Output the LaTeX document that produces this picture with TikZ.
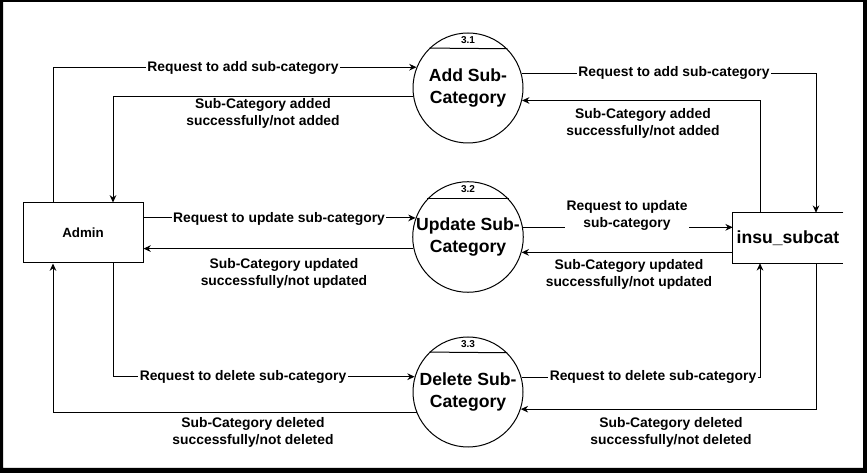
\documentclass[tikz,border=0pt]{standalone}
\usepackage{fontspec}
\setmainfont{Liberation Sans}
\usetikzlibrary{arrows.meta,calc}

\begin{document}
\begin{tikzpicture}[x=0.75pt,y=0.75pt,yscale=-1,
    flow/.style={line width=0.75pt,-{Stealth[length=5.5pt,width=5pt]}},
    proc/.style={draw,circle,line width=0.75pt,minimum size=82.5pt,inner sep=0pt,align=center,font=\fontsize{13.2}{16.5}\selectfont\bfseries},
    ext/.style={draw,line width=0.75pt,minimum width=90pt,minimum height=45pt,font=\fontsize{10}{12}\selectfont\bfseries},
    datastore/.style={minimum width=82.5pt,minimum height=37.5pt,inner sep=0pt,font=\fontsize{13.2}{16}\selectfont\bfseries},
    lbl/.style={fill=white,inner sep=1pt,align=center,font=\fontsize{10.4}{12.75}\selectfont\bfseries},
    num/.style={inner sep=0pt,font=\fontsize{7.5}{9}\selectfont\bfseries}
]
\useasboundingbox (0,0) rectangle (867,473);

%Shape: Frame
\fill[even odd rule] (0,0) rectangle (867,473) (3,2) rectangle (863,468);

%Shape: Rectangle
\node[ext] (admin) at (83,233) {Admin};
%Shape: Data store
\node[datastore] (subcat) at (788,238) {insu\_subcat};
\draw[line width=0.75pt] (subcat.north east) -- (subcat.north west) -- (subcat.south west) -- (subcat.south east);

%Shape: Circles
\node[proc] (add) at (468,88) {Add Sub-\\Category};
\node[proc] (upd) at (468,237) {Update Sub-\\Category};
\node[proc] (del) at (468,392) {Delete Sub-\\Category};
\draw[line width=0.75pt] (add.45.2) -- (add.134.8);
\draw[line width=0.75pt] (upd.43) -- (upd.137);
\draw[line width=0.75pt] (del.45.2) -- (del.134.8);
\node[num] (addnum) at ($(add.north)+(0,8)$) {3.1};
\node[num] (updnum) at ($(upd.north)+(0,8)$) {3.2};
\node[num] (delnum) at ($(del.north)+(0,8)$) {3.3};

%Straight Lines: add
\draw[flow] ($(admin.north)+(-30,0)$) |- (add.158.7);
\draw[flow] (add.189.4) -| ($(admin.north)+(30,0)$);
\draw[flow] (add.15.8) -| ($(subcat.north)+(28,0)$);
\draw[flow] ($(subcat.north)+(-28,0)$) |- (add.347.4);

%Straight Lines: update
\draw[flow] (admin.east |- upd.160.9) -- (upd.160.9);
\draw[flow] (upd.192.6) -- (admin.east |- upd.192.6);
\draw[flow] (upd.10.5) -- (subcat.west |- upd.10.5);
\draw[flow] (subcat.west |- upd.344.2) -- (upd.344.2);

%Straight Lines: delete
\draw[flow] ($(admin.south)+(30,0)$) |- (del.164.2);
\draw[flow] (del.202.4) -| ($(admin.south)+(-30,0)$);
\draw[flow] (del.15.8) -| ($(subcat.south)+(-28,0)$);
\draw[flow] ($(subcat.south)+(28,0)$) |- (del.342);

% Text Node
\node[lbl] (addreq) at (243,68) {Request to add sub-category};
% Text Node
\node[lbl] (addres) at (263,113) {Sub-Category added\\successfully/not added};
% Text Node
\node[lbl] (addreqr) at (674,73) {Request to add sub-category};
% Text Node
\node[lbl] (addresr) at (643,123) {Sub-Category added\\successfully/not added};
% Text Node
\node[lbl] (updreq) at (279,219) {Request to update sub-category};
% Text Node
\node[lbl] (updres) at (284,273) {Sub-Category updated\\successfully/not updated};
% Text Node
\node[lbl] (updreqr) at (627,215) {Request to update\\sub-category};
% Text Node
\node[lbl] (updresr) at (629,274) {Sub-Category updated\\successfully/not updated};
% Text Node
\node[lbl] (delreq) at (243,377) {Request to delete sub-category};
% Text Node
\node[lbl] (delres) at (253,432) {Sub-Category deleted\\successfully/not deleted};
% Text Node
\node[lbl] (delreqr) at (653,377) {Request to delete sub-category};
% Text Node
\node[lbl] (delresr) at (671,432) {Sub-Category deleted\\successfully/not deleted};

\end{tikzpicture}
\end{document}
